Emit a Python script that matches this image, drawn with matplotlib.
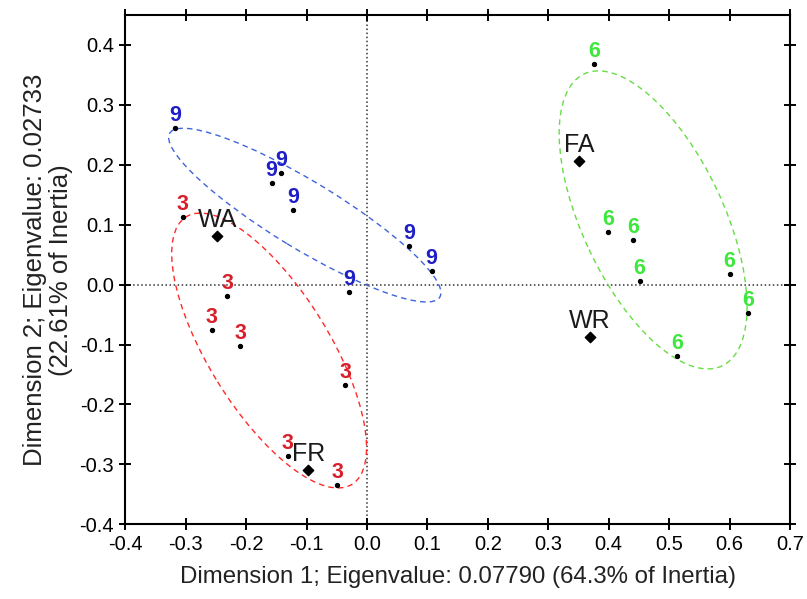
import matplotlib
matplotlib.use("Agg")
from matplotlib import pyplot as plt
from matplotlib.patches import Ellipse

plt.rcParams['font.family'] = ['Liberation Sans', 'DejaVu Sans']

# 样本点 (按组)
grp9_x = [-0.318, -0.158, -0.142, -0.122, -0.030, 0.070, 0.107]
grp9_y = [0.262, 0.169, 0.187, 0.124, -0.012, 0.065, 0.023]
grp3_x = [-0.305, -0.231, -0.257, -0.210, -0.036, -0.131, -0.049]
grp3_y = [0.113, -0.019, -0.076, -0.102, -0.167, -0.286, -0.335]
grp6_x = [0.376, 0.399, 0.440, 0.451, 0.600, 0.631, 0.513]
grp6_y = [0.369, 0.088, 0.074, 0.006, 0.017, -0.047, -0.119]

# 列点
col_names = ['WA', 'FR', 'FA', 'WR']
col_x = [-0.248, -0.097, 0.351, 0.369]
col_y = [0.081, -0.309, 0.206, -0.088]

# 置信椭圆: 中心, 半长轴, 半短轴, 角度
ell_cx = [-0.103, -0.162, 0.4735]
ell_cy = [0.116, -0.110, 0.108]
ell_a = [0.262, 0.262, 0.269]
ell_b = [0.056, 0.100, 0.117]
ell_ang = [-31.5, -58.5, -65]

groups = [
    ('9', grp9_x, grp9_y, '#1f1fc8', '#3f63dc'),
    ('3', grp3_x, grp3_y, '#d8202c', '#ff2a2a'),
    ('6', grp6_x, grp6_y, '#3be83b', '#66dd44'),
]

fig = plt.figure(figsize=(8.07, 5.99), dpi=100)
ax = fig.add_axes([0.1553, 0.1247, 0.8236, 0.8503])

ax.axhline(0, color='#333333', ls=':', lw=1.1, zorder=1)
ax.axvline(0, color='#333333', ls=':', lw=1.1, zorder=1)

for i, (lab, xs, ys, tcol, ecol) in enumerate(groups):
    e = Ellipse((ell_cx[i], ell_cy[i]), 2 * ell_a[i], 2 * ell_b[i], angle=ell_ang[i],
                fill=False, edgecolor=ecol, lw=1.0, ls=(0, (4, 3)), zorder=2)
    ax.add_patch(e)
    ax.scatter(xs, ys, s=8, color='black', zorder=3)
    for x, y in zip(xs, ys):
        ax.annotate(lab, (x, y), xytext=(0, 5), textcoords='offset points',
                    ha='center', va='baseline', color=tcol, fontsize=15.5,
                    fontweight='bold', zorder=4)

ax.scatter(col_x, col_y, marker='D', s=28, color='black', zorder=3)
for n, x, y in zip(col_names, col_x, col_y):
    ax.annotate(n, (x, y), xytext=(0, 6.5), textcoords='offset points',
                ha='center', va='baseline', color='#1a1a1a', fontsize=18, zorder=4)

ax.set_xlim(-0.4, 0.7)
ax.set_ylim(-0.4, 0.45)
ax.set_xticks([i / 10 for i in range(-4, 8)])
ax.set_yticks([i / 10 for i in range(-4, 5)])
ax.set_xticklabels([f'{i / 10:.1f}' for i in range(-4, 8)])
ax.set_yticklabels([f'{i / 10:.1f}' for i in range(-4, 5)])
ax.tick_params(direction='inout', length=8, width=1.4, labelsize=14.5,
               top=True, right=True, pad=4)
for sp in ax.spines.values():
    sp.set_linewidth(1.5)

ax.set_xlabel('Dimension 1; Eigenvalue: 0.07790 (64.3% of Inertia)', fontsize=17.3,
              color='#222222', labelpad=8)
ax.set_ylabel('Dimension 2; Eigenvalue: 0.02733\n(22.61% of Inertia)', fontsize=18.5,
              color='#222222', labelpad=5, linespacing=1.1)

fig.savefig('out.png', dpi=100)
